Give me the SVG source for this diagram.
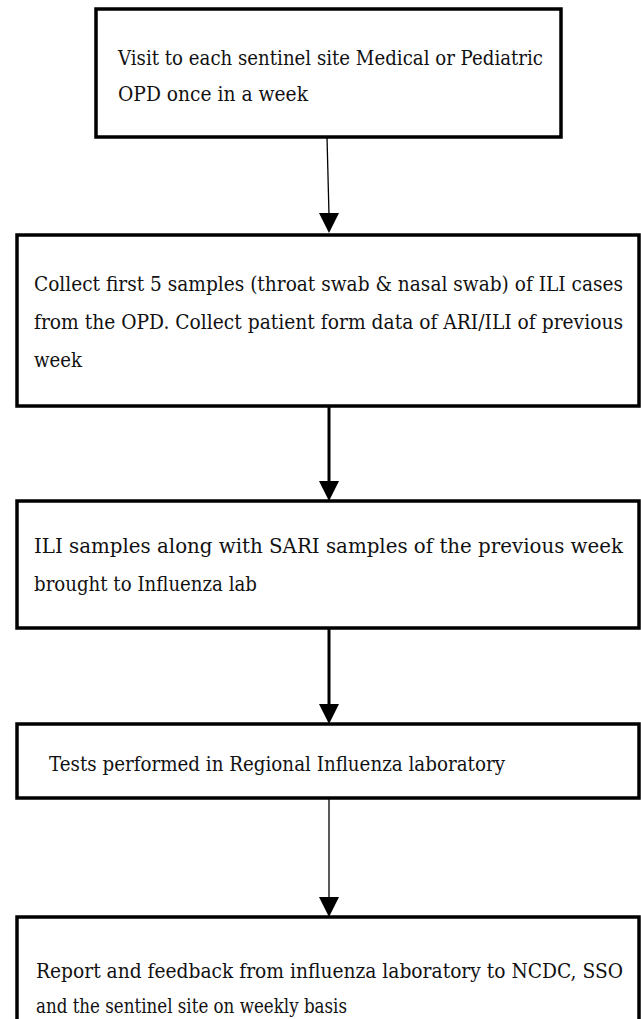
<svg xmlns="http://www.w3.org/2000/svg" width="641" height="1019" viewBox="0 0 641 1019">
<defs>
<style>
.box{fill:#fff;stroke:#000;stroke-width:3.5}
.t{font-family:'DejaVu Serif','Liberation Serif','Times New Roman',serif;font-size:20px;fill:#111}
.thin{stroke:#000;stroke-width:1.3;fill:none}
.thick{stroke:#000;stroke-width:3;fill:none}
.head{fill:#000}
</style>
</defs>
<rect width="641" height="1019" fill="#fff"/>
<g id="connectors">
<line class="thin" x1="327" y1="137" x2="329" y2="215"/>
<polygon class="head" points="319,213 339,213 329,233"/>
<line class="thick" x1="329" y1="406" x2="329" y2="483"/>
<polygon class="head" points="319,481 339,481 329,501"/>
<line class="thick" x1="329" y1="628" x2="329" y2="706"/>
<polygon class="head" points="319,704 339,704 329,724"/>
<line class="thin" x1="329" y1="798" x2="329" y2="899"/>
<polygon class="head" points="319,897 339,897 329,917"/>
</g>
<g id="n1">
<rect class="box" x="96" y="9" width="465" height="128"/>
<text class="t" transform="scale(0.8,1)" x="147.5" y="65" textLength="531.25" lengthAdjust="spacingAndGlyphs">Visit to each sentinel site Medical or Pediatric</text>
<text class="t" transform="scale(0.8,1)" x="147.5" y="101" textLength="237.5" lengthAdjust="spacingAndGlyphs">OPD once in a week</text>
</g>
<g id="n2">
<rect class="box" x="17" y="235" width="622" height="171"/>
<text class="t" transform="scale(0.8,1)" x="42.5" y="291" textLength="736.25" lengthAdjust="spacingAndGlyphs">Collect first 5 samples (throat swab &amp; nasal swab) of ILI cases</text>
<text class="t" transform="scale(0.8,1)" x="42.5" y="329" textLength="736.25" lengthAdjust="spacingAndGlyphs">from the OPD. Collect patient form data of ARI/ILI of previous</text>
<text class="t" transform="scale(0.8,1)" x="42.5" y="367" textLength="60" lengthAdjust="spacingAndGlyphs">week</text>
</g>
<g id="n3">
<rect class="box" x="17" y="501" width="622" height="127"/>
<text class="t" transform="scale(0.8,1)" x="42.5" y="553" textLength="736.25" lengthAdjust="spacingAndGlyphs">ILI samples along with SARI samples of the previous week</text>
<text class="t" transform="scale(0.8,1)" x="42.5" y="591" textLength="278.75" lengthAdjust="spacingAndGlyphs">brought to Influenza lab</text>
</g>
<g id="n4">
<rect class="box" x="17" y="724" width="622" height="74"/>
<text class="t" transform="scale(0.8,1)" x="61.25" y="771" textLength="570" lengthAdjust="spacingAndGlyphs">Tests performed in Regional Influenza laboratory</text>
</g>
<g id="n5">
<rect class="box" x="17" y="917" width="622" height="120"/>
<text class="t" transform="scale(0.8,1)" x="45" y="978" textLength="733.75" lengthAdjust="spacingAndGlyphs">Report and feedback from influenza laboratory to NCDC, SSO</text>
<text class="t" transform="scale(0.8,1)" x="45" y="1013" textLength="388.75" lengthAdjust="spacingAndGlyphs">and the sentinel site on weekly basis</text>
</g>
</svg>
